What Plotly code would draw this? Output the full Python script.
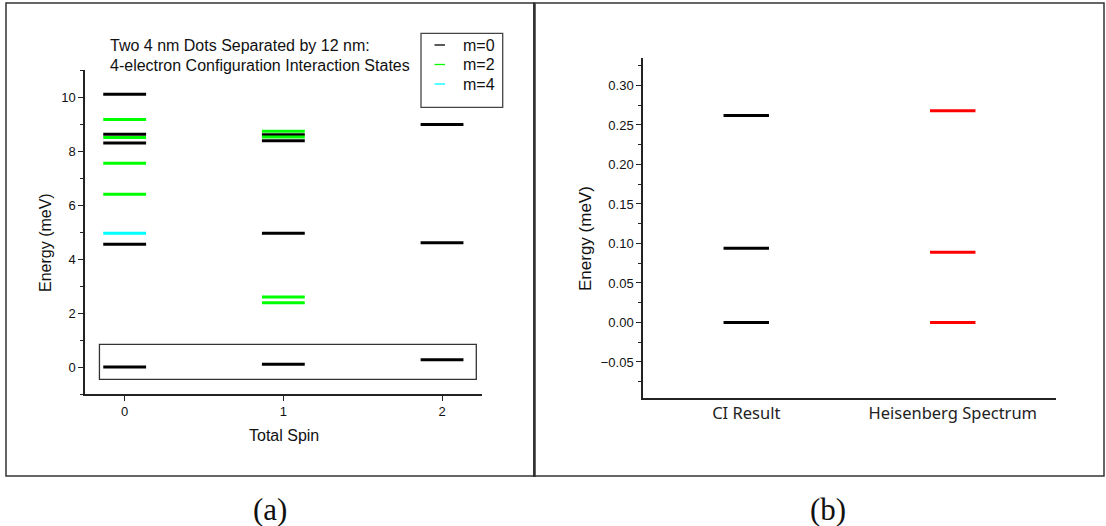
import plotly.graph_objects as go

# ---- Panel (a): 4-electron CI energy levels (meV) by total spin and m ----
spin_values = [0, 1, 2]
levels_m0 = {0: [10.1, 8.62, 8.3, 4.55, 0.0],
             1: [8.6, 8.38, 4.95, 0.1],
             2: [8.98, 4.6, 0.27]}
levels_m2 = {0: [9.17, 8.5, 7.55, 6.4],
             1: [8.73, 8.52, 2.59, 2.38],
             2: []}
levels_m4 = {0: [4.95], 1: [], 2: []}
m_labels = ["m=0", "m=2", "m=4"]
m_colors = ["#000000", "#00ff00", "#00ffff"]

# ---- Panel (b): low-energy comparison (meV) ----
compare_labels = ["CI Result", "Heisenberg Spectrum"]
ci_levels = [0.0, 0.094, 0.262]
heis_levels = [0.0, 0.089, 0.268]
compare_colors = ["#000000", "#ff0000"]

W, H = 1106, 526
HALF_A = 0.135   # half-width of a level bar in panel (a), spin units
HALF_B = 0.11    # half-width of a level bar in panel (b), category units


def segments(groups, half):
    xs, ys = [], []
    for pos, vals in groups:
        for v in vals:
            xs += [pos - half, pos + half, None]
            ys += [v, v, None]
    return xs, ys


fig = go.Figure()

for levels, color, name in zip([levels_m0, levels_m2, levels_m4], m_colors, m_labels):
    xs, ys = segments([(s, levels[s]) for s in spin_values], HALF_A)
    fig.add_trace(go.Scatter(x=xs, y=ys, mode="lines", name=name,
                             line=dict(color=color, width=3),
                             xaxis="x", yaxis="y", showlegend=False,
                             hoverinfo="skip"))

for i, (vals, color) in enumerate(zip([ci_levels, heis_levels], compare_colors)):
    xs, ys = segments([(i, vals)], HALF_B)
    fig.add_trace(go.Scatter(x=xs, y=ys, mode="lines", name=compare_labels[i],
                             line=dict(color=color, width=3),
                             xaxis="x2", yaxis="y2", showlegend=False,
                             hoverinfo="skip"))


def px_x(p):
    return p / W


def px_y(p):
    return 1 - p / H


SANS = "Liberation Sans, Arial, sans-serif"
axis_font = dict(family=SANS, size=13, color="#111")
line_col = "#222"

fig.update_layout(
    width=W, height=H,
    margin=dict(l=0, r=0, t=0, b=0),
    paper_bgcolor="white", plot_bgcolor="white",
    showlegend=False,
    xaxis=dict(domain=[px_x(85), px_x(481.7)], range=[-0.25, 2.25],
               tickvals=spin_values, ticks="outside", ticklen=5, tickwidth=1.3,
               tickcolor=line_col, showline=True, linecolor=line_col, linewidth=1.5,
               showgrid=False, zeroline=False, tickfont=axis_font, anchor="y"),
    yaxis=dict(domain=[px_y(394), px_y(70)], range=[-1, 11],
               tickvals=[0, 2, 4, 6, 8, 10], ticks="outside", ticklen=5, tickwidth=1.3,
               tickcolor=line_col, showline=True, linecolor=line_col, linewidth=1.5,
               minor=dict(tickvals=[-1, 1, 3, 5, 7, 9, 11], ticks="outside", ticklen=3,
                          tickwidth=1.3, tickcolor=line_col, showgrid=False),
               showgrid=False, zeroline=False, tickfont=axis_font, anchor="x"),
    xaxis2=dict(domain=[px_x(643), px_x(1056)], range=[-0.5, 1.5],
                tickvals=[0, 1], ticktext=compare_labels, ticks="",
                showline=True, linecolor=line_col, linewidth=1.5,
                showgrid=False, zeroline=False,
                tickfont=dict(family="Noto Sans, Open Sans, sans-serif", size=16.5, color="#222"),
                anchor="y2"),
    yaxis2=dict(domain=[px_y(397.7), px_y(58.3)], range=[-0.0952, 0.3344],
                tickvals=[-0.05, 0.0, 0.05, 0.10, 0.15, 0.20, 0.25, 0.30],
                tickformat=".2f", ticks="outside", ticklen=5, tickwidth=1.3,
                tickcolor=line_col, showline=True, linecolor=line_col, linewidth=1.5,
                minor=dict(tickvals=[-0.075, -0.025, 0.025, 0.075, 0.125, 0.175,
                                     0.225, 0.275, 0.325],
                           ticks="outside", ticklen=3, tickwidth=1.3,
                           tickcolor=line_col, showgrid=False),
                showgrid=False, zeroline=False, tickfont=axis_font, anchor="x2"),
)

shapes = []
# panel frames and the divider between them
frame = dict(type="rect", xref="paper", yref="paper",
             line=dict(color="#333", width=1.5), fillcolor="rgba(0,0,0,0)")
shapes.append(dict(frame, x0=px_x(6), x1=px_x(534), y0=px_y(476), y1=px_y(3)))
shapes.append(dict(frame, x0=px_x(534), x1=px_x(1104), y0=px_y(476), y1=px_y(3)))
shapes.append(dict(type="line", xref="paper", yref="paper",
                   x0=px_x(534.5), x1=px_x(534.5), y0=px_y(477), y1=px_y(3),
                   line=dict(color="#333", width=2.5)))
# box around the lowest state of each spin sector
shapes.append(dict(type="rect", xref="x", yref="y", x0=-0.159, x1=2.216,
                   y0=-0.457, y1=0.84, line=dict(color="#333", width=1.3),
                   fillcolor="rgba(0,0,0,0)"))
# legend frame and samples
shapes.append(dict(type="rect", xref="paper", yref="paper",
                   x0=px_x(421), x1=px_x(502.7), y0=px_y(107.3), y1=px_y(33.3),
                   line=dict(color="#444", width=1.3), fillcolor="white"))
legend_rows = [45, 64.5, 84]
for row_y, color in zip(legend_rows, m_colors):
    shapes.append(dict(type="line", xref="paper", yref="paper",
                       x0=px_x(434.5), x1=px_x(445), y0=px_y(row_y), y1=px_y(row_y),
                       line=dict(color=color, width=1.3)))
fig.update_layout(shapes=shapes)

text_font = dict(family=SANS, size=16, color="#111")
annotations = [
    dict(text="Two 4 nm Dots Separated by 12 nm:", x=px_x(108), y=px_y(45),
         xanchor="left", yanchor="middle", font=text_font),
    dict(text="4-electron Configuration Interaction States", x=px_x(108), y=px_y(66),
         xanchor="left", yanchor="middle", font=text_font),
    dict(text="Energy (meV)", x=px_x(45), y=px_y(243), textangle=-90,
         xanchor="center", yanchor="middle",
         font=dict(family=SANS, size=16, color="#111")),
    dict(text="Total Spin", x=px_x(284), y=px_y(435),
         xanchor="center", yanchor="middle",
         font=dict(family=SANS, size=16, color="#111")),
    dict(text="Energy (meV)", x=px_x(585), y=px_y(239), textangle=-90,
         xanchor="center", yanchor="middle",
         font=dict(family=SANS, size=17, color="#111")),
    dict(text="(a)", x=px_x(270), y=px_y(509), xanchor="center", yanchor="middle",
         font=dict(family="Liberation Serif, serif", size=31, color="#111")),
    dict(text="(b)", x=px_x(828), y=px_y(509), xanchor="center", yanchor="middle",
         font=dict(family="Liberation Serif, serif", size=31, color="#111")),
]
for row_y, label in zip(legend_rows, m_labels):
    annotations.append(dict(text=label, x=px_x(461), y=px_y(row_y), xanchor="left",
                            yanchor="middle", font=text_font))
for a in annotations:
    a.update(xref="paper", yref="paper", showarrow=False)
fig.update_layout(annotations=annotations)

fig.write_html("out.html")
